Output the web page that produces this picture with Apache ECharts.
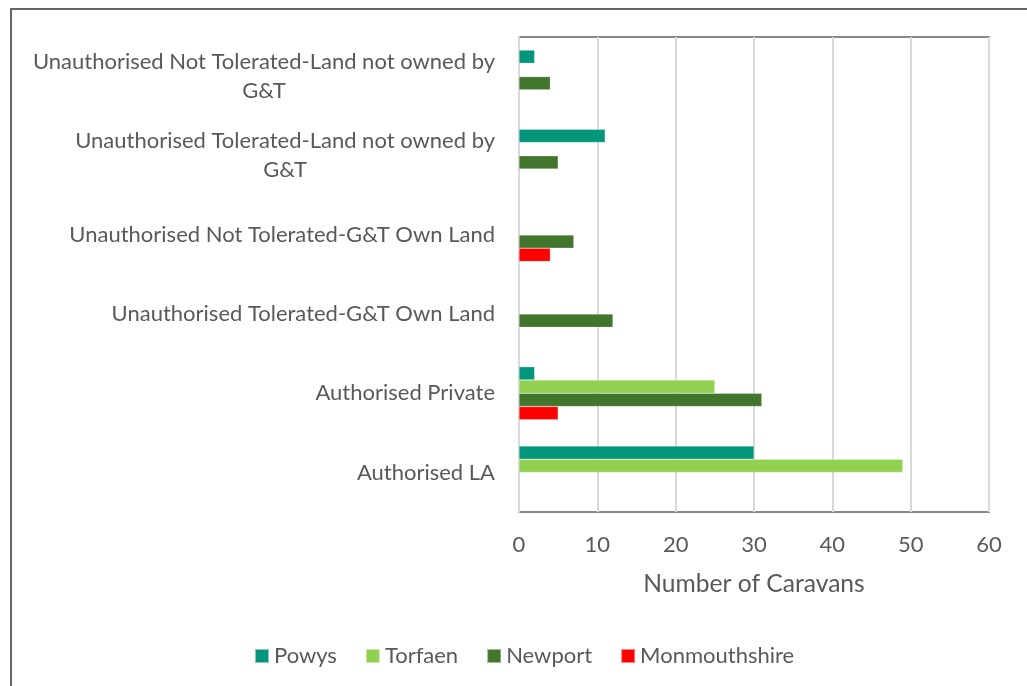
<!DOCTYPE html>
<html>
<head>
<meta charset="utf-8">
<script src="https://cdn.jsdelivr.net/npm/echarts@6/dist/echarts.min.js"></script>
<style>
  html, body { margin: 0; padding: 0; background: #ffffff; }
  #chart { width: 1027px; height: 686px; }
</style>
</head>
<body>
<div id="chart"></div>
<script>
// Site types, listed top to bottom
const categories = [
  'Unauthorised Not Tolerated-Land not owned by G&T',
  'Unauthorised Tolerated-Land not owned by G&T',
  'Unauthorised Not Tolerated-G&T Own Land',
  'Unauthorised Tolerated-G&T Own Land',
  'Authorised Private',
  'Authorised LA'
];

// Caravan counts per local authority (null = none)
const powys         = [2, 11, null, null, 2, 30];
const torfaen       = [null, null, null, null, 25, 49];
const newport       = [4, 5, 7, 12, 31, null];
const monmouthshire = [null, null, 4, null, 5, null];

const seriesNames = ['Powys', 'Torfaen', 'Newport', 'Monmouthshire'];
const seriesData  = [powys, torfaen, newport, monmouthshire];
const seriesColors = ['#03967A', '#92D050', '#41762C', '#FF0000'];

const xTicks = [0, 10, 20, 30, 40, 50, 60];

// Long labels wrap after "by"; each line is centred within the label block
function wrapLabel(v) {
  const parts = v.replace(' by ', ' by\n').split('\n');
  return parts.map(p => '{c|' + p + '}').join('\n');
}

const textColor = '#595959';
const fontFamily = 'Lato, "Open Sans", sans-serif';
const fs = 22;

const chart = echarts.init(document.getElementById('chart'), null, { renderer: 'canvas' });

chart.setOption({
  backgroundColor: '#ffffff',
  animation: false,
  textStyle: { fontFamily: fontFamily, color: textColor },
  graphic: [{
    type: 'rect',
    shape: { x: 11, y: 9, width: 1200, height: 800 },
    style: { fill: 'none', stroke: '#666666', lineWidth: 2 },
    silent: true,
    z: 100
  }],
  legend: {
    data: seriesNames,
    bottom: 14,
    left: 249,
    itemWidth: 14,
    itemHeight: 14,
    itemGap: 28,
    icon: 'rect',
    textStyle: { fontSize: fs, color: textColor, fontFamily: fontFamily }
  },
  grid: {
    left: 519,
    right: 38,
    top: 37,
    bottom: 174,
    show: true,
    borderColor: '#898989',
    borderWidth: 2,
    backgroundColor: 'transparent'
  },
  xAxis: {
    type: 'value',
    min: 0,
    max: 60,
    interval: 10,
    name: 'Number of Caravans',
    nameLocation: 'middle',
    nameGap: 60,
    nameTextStyle: { fontSize: 24.6, color: textColor, fontFamily: fontFamily },
    axisLine: { show: false },
    axisTick: { show: false },
    axisLabel: {
      fontSize: fs, color: textColor, margin: 22,
      formatter: v => xTicks.includes(v) ? String(v) : ''
    },
    splitLine: { show: true, lineStyle: { color: '#D9D9D9', width: 2 } }
  },
  yAxis: {
    type: 'category',
    inverse: true,
    data: categories,
    axisLine: { show: true, lineStyle: { color: '#D9D9D9', width: 2 } },
    axisTick: { show: false },
    axisLabel: {
      margin: 24,
      color: textColor,
      fontSize: fs,
      align: 'right',
      lineHeight: 29,
      formatter: wrapLabel,
      rich: {
        c: { align: 'center', fontSize: fs, color: textColor, fontFamily: fontFamily, lineHeight: 29 }
      }
    }
  },
  series: seriesNames.map((name, i) => ({
    name: name,
    type: 'bar',
    data: seriesData[i],
    barGap: '0%',
    barCategoryGap: '33%',
    itemStyle: { color: seriesColors[i], borderColor: 'rgba(255,255,255,0.5)', borderWidth: 0.5 }
  }))
});
</script>
</body>
</html>
